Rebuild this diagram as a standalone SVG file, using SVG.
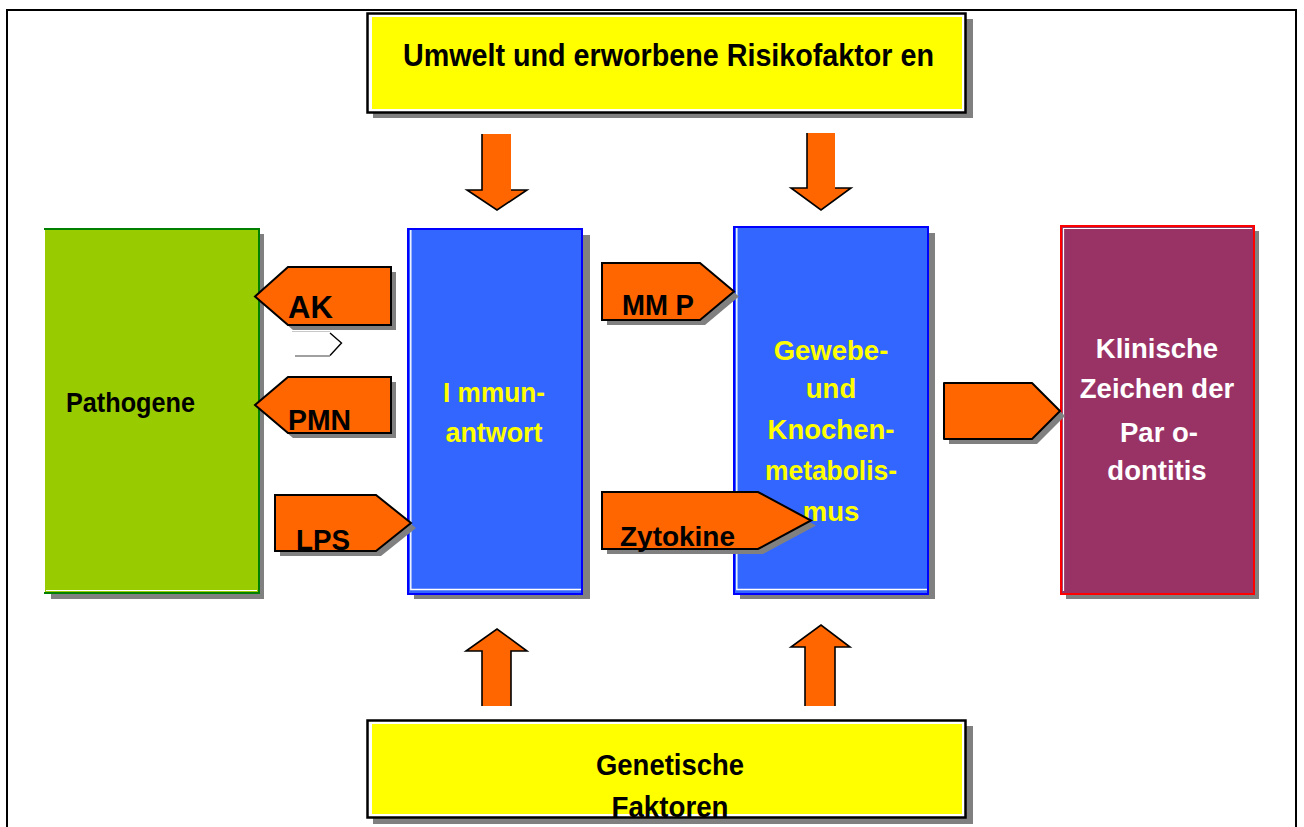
<svg xmlns="http://www.w3.org/2000/svg" width="1304" height="827" viewBox="0 0 1304 827">
<defs>
<style>
.t{font-family:"Liberation Sans",Arial,sans-serif;font-weight:bold}
.blk{fill:#000}
.yel{fill:#FFFF00}
.wht{fill:#FFFFFF}
.sh{fill:#808080}
.arr{fill:#FF6600;stroke:#000;stroke-width:2;stroke-linejoin:miter}
.ol{fill:none;stroke:#000;stroke-width:1.6}
</style>
</defs>
<rect x="0" y="0" width="1304" height="827" fill="#FFFFFF"/>
<rect x="7" y="10" width="1289" height="840" fill="none" stroke="#000" stroke-width="2"/>

<g id="umwelt">
<rect x="373" y="19" width="600" height="99" class="sh"/>
<rect x="367.5" y="13.5" width="598" height="99" fill="#FFFFFF" stroke="#000" stroke-width="2.5"/>
<rect x="372" y="17" width="590" height="92" class="yel"/>
<text x="668.5" y="66" font-size="31" text-anchor="middle" textLength="531" lengthAdjust="spacingAndGlyphs" class="t blk">Umwelt und erworbene Risikofaktor en</text>
</g>

<g id="genetisch">
<rect x="373" y="726" width="600" height="98" class="sh"/>
<rect x="367.5" y="720.5" width="598" height="97" fill="#FFFFFF" stroke="#000" stroke-width="2.5"/>
<rect x="372" y="724" width="590" height="90" class="yel"/>
<text x="670" y="775" font-size="29" text-anchor="middle" textLength="148" lengthAdjust="spacingAndGlyphs" class="t blk">Genetische</text>
<text x="670" y="817" font-size="29" text-anchor="middle" textLength="117" lengthAdjust="spacingAndGlyphs" class="t blk">Faktoren</text>
</g>

<g id="pathogene">
<rect x="51" y="234" width="213" height="365" class="sh"/>
<rect x="45" y="228" width="214" height="365" fill="#99CC00"/>
<path d="M44,229 L259,229 L259,593 L44,593" fill="none" stroke="#008000" stroke-width="2"/>
<path d="M46,590.5 L257,590.5" stroke="#FFFFFF" stroke-width="1.2"/>
<text x="66" y="411.5" font-size="28" textLength="129" lengthAdjust="spacingAndGlyphs" class="t blk">Pathogene</text>
</g>

<g id="immunantwort">
<rect x="414" y="235" width="176" height="364" class="sh"/>
<rect x="408" y="229" width="174" height="365" fill="#3366FF" stroke="#0000FF" stroke-width="2"/>
<path d="M410.8,230 L410.8,589.5 L581,589.5" fill="none" stroke="#FFFFFF" stroke-width="1.4"/>
<text x="494" y="401.5" font-size="28" text-anchor="middle" textLength="102" lengthAdjust="spacingAndGlyphs" class="t yel">I mmun-</text>
<text x="494" y="441.5" font-size="28" text-anchor="middle" textLength="97" lengthAdjust="spacingAndGlyphs" class="t yel">antwort</text>
</g>

<g id="gewebe">
<rect x="740" y="233" width="195" height="366" class="sh"/>
<rect x="734" y="227" width="194" height="367" fill="#3366FF" stroke="#0000FF" stroke-width="2"/>
<path d="M736.8,228 L736.8,589.5 L927,589.5" fill="none" stroke="#FFFFFF" stroke-width="1.4"/>
<text x="831" y="360" font-size="27.5" text-anchor="middle" class="t yel">Gewebe-</text>
<text x="831" y="398" font-size="27.5" text-anchor="middle" class="t yel">und</text>
<text x="831" y="439" font-size="27.5" text-anchor="middle" class="t yel">Knochen-</text>
<text x="831" y="480" font-size="27.5" text-anchor="middle" textLength="132" lengthAdjust="spacingAndGlyphs" class="t yel">metabolis-</text>
<text x="831" y="521" font-size="27.5" text-anchor="middle" class="t yel">mus</text>
</g>

<g id="klinisch">
<rect x="1066" y="231" width="193" height="368" class="sh"/>
<rect x="1061" y="226" width="193" height="368" fill="#993366" stroke="#FF0000" stroke-width="2"/>
<path d="M1063.5,591 L1063.5,228.5 L1252,228.5" fill="none" stroke="#FFFFFF" stroke-width="1.2"/>
<text x="1157" y="358" font-size="27.5" text-anchor="middle" class="t wht">Klinische</text>
<text x="1157" y="398" font-size="27.5" text-anchor="middle" class="t wht">Zeichen der</text>
<text x="1159" y="441.5" font-size="27.5" text-anchor="middle" class="t wht">Par o-</text>
<text x="1157" y="480" font-size="27.5" text-anchor="middle" class="t wht">dontitis</text>
</g>

<g id="connectors">
<path d="M482,134 L511,134 L511,190 L527,190 L497,210 L467,190 L482,190 Z" fill="#FF6600"/>
<path d="M482,134 L482,190 L467,190 L497,210 L527,190 L511,190" class="ol"/>
<path d="M807,133 L835,133 L835,188 L851,188 L821,210 L791,188 L807,188 Z" fill="#FF6600"/>
<path d="M807,133 L807,188 L791,188 L821,210 L851,188 L835,188" class="ol"/>
<path d="M482,706 L482,651 L466,651 L497,629 L527,651 L511,651 L511,706 Z" fill="#FF6600"/>
<path d="M482,706 L482,651 L466,651 L497,629 L527,651 L511,651 L511,706" class="ol"/>
<path d="M805,706 L805,647 L791,647 L821,625 L850,647 L835,647 L835,706 Z" fill="#FF6600"/>
<path d="M805,706 L805,647 L791,647 L821,625 L850,647 L835,647 L835,706" class="ol"/>

<polygon points="396,272 293,272 260,301.5 293,330 396,330" class="sh"/>
<polygon points="391,267 288,267 255,296.5 288,325 391,325" class="arr"/>
<text x="288" y="318" font-size="31" class="t blk">AK</text>

<path d="M292,331.5 L330,331.5" stroke="#C8C8C8" stroke-width="1.2" fill="none"/>
<path d="M330,333 L341.5,343 L330,355.5" stroke="#000" stroke-width="1.4" fill="none"/>
<path d="M295,356 L330,356" stroke="#808080" stroke-width="1.6" fill="none"/>

<polygon points="396,382 293,382 260,410 293,438 396,438" class="sh"/>
<polygon points="391,377 288,377 255,405 288,433 391,433" class="arr"/>
<text x="288" y="430" font-size="29" textLength="63" lengthAdjust="spacingAndGlyphs" class="t blk">PMN</text>

<polygon points="280,500 381,500 416,528 381,556 280,556" class="sh"/>
<polygon points="275,495 376,495 411,523 376,551 275,551" class="arr"/>
<text x="296" y="549.5" font-size="29" textLength="54" lengthAdjust="spacingAndGlyphs" class="t blk">LPS</text>

<polygon points="607,268 705,268 739,296.5 705,325 607,325" class="sh"/>
<polygon points="602,263 700,263 734,291.5 700,320 602,320" class="arr"/>
<text x="622" y="315" font-size="29" textLength="72" lengthAdjust="spacingAndGlyphs" class="t blk">MM P</text>

<polygon points="607,497 763,497 816,525.5 763,554 607,554" class="sh"/>
<polygon points="602,492 758,492 811,520.5 758,549 602,549" class="arr"/>
<text x="620" y="546" font-size="28" textLength="115" lengthAdjust="spacingAndGlyphs" class="t blk">Zytokine</text>

<polygon points="949,388 1037,388 1065,416 1037,444 949,444" class="sh"/>
<polygon points="944,383 1032,383 1060,411 1032,439 944,439" fill="#FF6600" stroke="#000" stroke-width="2" stroke-linejoin="round"/>
</g>
</svg>
